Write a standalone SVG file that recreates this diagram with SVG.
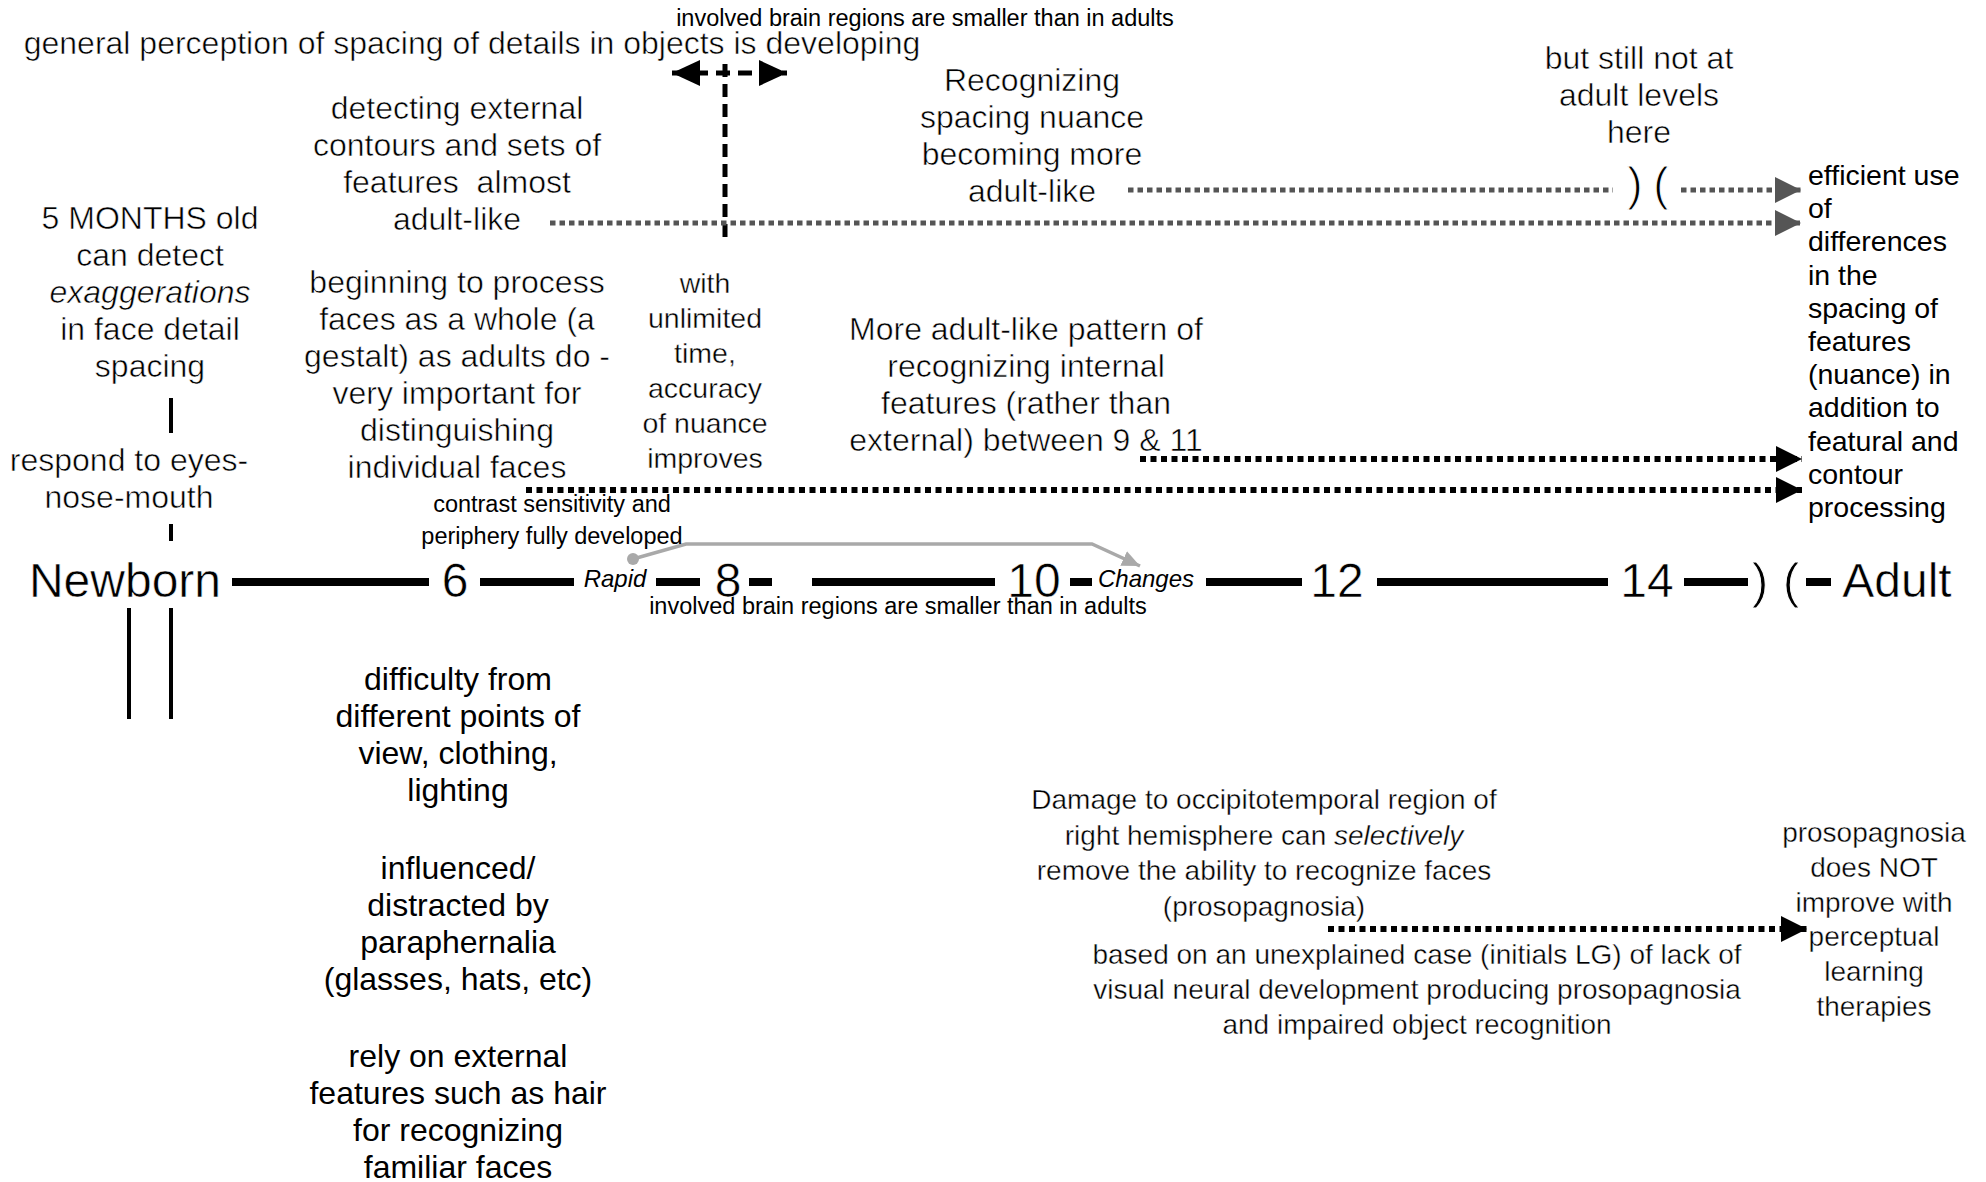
<svg xmlns="http://www.w3.org/2000/svg" width="1986" height="1182" viewBox="0 0 1986 1182">
<style>
text { font-family: "Liberation Sans", Arial, Helvetica, sans-serif; fill: #000; }
.lt { stroke: #fff; stroke-width: 0.55; }
.ls { stroke: #fff; stroke-width: 0.4; }
.c { text-anchor: middle; }
.f32 { font-size: 32px; }
.f29 { font-size: 28.5px; }
.f28 { font-size: 28px; }
.f23 { font-size: 23.5px; }
.tl { font-size: 48px; text-anchor: middle; }
.it { font-style: italic; }
.sm { font-size: 24px; font-style: italic; text-anchor: middle; }
.gdot { fill: none; stroke: #555; stroke-width: 5; stroke-dasharray: 5.5 4; }
.bdot { fill: none; stroke: #000; stroke-width: 6; stroke-dasharray: 6 4.5; }
.bdash { fill: none; stroke: #000; stroke-width: 5; stroke-dasharray: 13 7; }
.seg { stroke: #000; stroke-width: 8; }
.bar { stroke: #000; stroke-width: 4; }
.gline { fill: none; stroke: #a9a9a9; stroke-width: 3.5; }
.brk { font-size: 46px; fill: #000; text-anchor: middle; stroke: #fff; stroke-width: 1; }
</style>
<defs>
<marker id="ag" viewBox="0 0 26 26" refX="26" refY="13" markerWidth="26" markerHeight="26" markerUnits="userSpaceOnUse" orient="auto">
<path d="M0,0 L26,13 L0,26 z" fill="#555"/>
</marker>
<marker id="ab" viewBox="0 0 26 26" refX="26" refY="13" markerWidth="26" markerHeight="26" markerUnits="userSpaceOnUse" orient="auto">
<path d="M0,0 L26,13 L0,26 z" fill="#000"/>
</marker>
<marker id="ad" viewBox="0 0 28 26" refX="28" refY="13" markerWidth="28" markerHeight="26" markerUnits="userSpaceOnUse" orient="auto-start-reverse">
<path d="M0,0 L28,13 L0,26 z" fill="#000"/>
</marker>
<marker id="alg" viewBox="0 0 18 16" refX="18" refY="8" markerWidth="18" markerHeight="16" markerUnits="userSpaceOnUse" orient="auto">
<path d="M0,0 L18,8 L0,16 z" fill="#a9a9a9"/>
</marker>
<marker id="dot" viewBox="0 0 14 14" refX="7" refY="7" markerWidth="14" markerHeight="14" markerUnits="userSpaceOnUse">
<circle cx="7" cy="7" r="6" fill="#a9a9a9"/>
</marker>
</defs>

<g id="connectors">
<line class="seg" x1="232" y1="582" x2="429" y2="582"/>
<line class="seg" x1="480" y1="582" x2="574" y2="582"/>
<line class="seg" x1="656" y1="582" x2="700" y2="582"/>
<line class="seg" x1="749" y1="582" x2="772" y2="582"/>
<line class="seg" x1="812" y1="582" x2="995" y2="582"/>
<line class="seg" x1="1070" y1="582" x2="1092" y2="582"/>
<line class="seg" x1="1206" y1="582" x2="1302" y2="582"/>
<line class="seg" x1="1377" y1="582" x2="1608" y2="582"/>
<line class="seg" x1="1684" y1="582" x2="1748" y2="582"/>
<line class="seg" x1="1806" y1="582" x2="1831" y2="582"/>
<text class="brk" x="1760" y="598" style="font-size:50px">)</text>
<text class="brk" x="1791" y="598" style="font-size:50px">(</text>
<line class="bar" x1="171" y1="398" x2="171" y2="433"/>
<line class="bar" x1="171" y1="524" x2="171" y2="541"/>
<line class="bar" x1="129" y1="608" x2="129" y2="719"/>
<line class="bar" x1="171" y1="608" x2="171" y2="719"/>
<line class="bdash" x1="725" y1="64" x2="725" y2="242"/>
<line class="bdash" x1="672" y1="73" x2="787" y2="73" marker-start="url(#ad)" marker-end="url(#ad)" style="stroke-dasharray:14 8"/>
<line class="gdot" x1="1128" y1="190" x2="1613" y2="190"/>
<text class="brk" x="1635" y="200">)</text>
<text class="brk" x="1661" y="200">(</text>
<line class="gdot" x1="1681" y1="190" x2="1801" y2="190" marker-end="url(#ag)"/>
<line class="gdot" x1="550" y1="223" x2="1801" y2="223" marker-end="url(#ag)"/>
<line class="bdot" x1="1140" y1="459" x2="1802" y2="459" marker-end="url(#ab)"/>
<line class="bdot" x1="526" y1="490" x2="1802" y2="490" marker-end="url(#ab)"/>
<line class="bdot" x1="1328" y1="929" x2="1807" y2="929" marker-end="url(#ab)"/>
<path class="gline" d="M633,559 L686,544 L1092,544 L1140,566" marker-start="url(#dot)" marker-end="url(#alg)"/>
</g>

<g id="n_top_involved"><text class="c f23" x="925" y="26">involved brain regions are smaller than in adults</text></g>
<g id="n_general"><text class="c f32 lt" x="472" y="54">general perception of spacing of details in objects is developing</text></g>
<g id="n_detecting">
<text class="c f32 lt" x="457" y="119">detecting external</text>
<text class="c f32 lt" x="457" y="156">contours and sets of</text>
<text class="c f32 lt" x="457" y="193" xml:space="preserve">features  almost</text>
<text class="c f32 lt" x="457" y="230">adult-like</text>
</g>
<g id="n_recognizing">
<text class="c f32 lt" x="1032" y="91">Recognizing</text>
<text class="c f32 lt" x="1032" y="128">spacing nuance</text>
<text class="c f32 lt" x="1032" y="165">becoming more</text>
<text class="c f32 lt" x="1032" y="202">adult-like</text>
</g>
<g id="n_butstill">
<text class="c f32 lt" x="1639" y="69">but still not at</text>
<text class="c f32 lt" x="1639" y="106">adult levels</text>
<text class="c f32 lt" x="1639" y="143">here</text>
</g>
<g id="n_efficient">
<text class="f29" x="1808" y="185">efficient use</text>
<text class="f29" x="1808" y="218">of</text>
<text class="f29" x="1808" y="251">differences</text>
<text class="f29" x="1808" y="285">in the</text>
<text class="f29" x="1808" y="318">spacing of</text>
<text class="f29" x="1808" y="351">features</text>
<text class="f29" x="1808" y="384">(nuance) in</text>
<text class="f29" x="1808" y="417">addition to</text>
<text class="f29" x="1808" y="451">featural and</text>
<text class="f29" x="1808" y="484">contour</text>
<text class="f29" x="1808" y="517">processing</text>
</g>
<g id="n_5months">
<text class="c f32 lt" x="150" y="229">5 MONTHS old</text>
<text class="c f32 lt" x="150" y="266">can detect</text>
<text class="c f32 it lt" x="150" y="303">exaggerations</text>
<text class="c f32 lt" x="150" y="340">in face detail</text>
<text class="c f32 lt" x="150" y="377">spacing</text>
</g>
<g id="n_respond">
<text class="c f32 lt" x="129" y="471">respond to eyes-</text>
<text class="c f32 lt" x="129" y="508">nose-mouth</text>
</g>
<g id="n_beginning">
<text class="c f32 lt" x="457" y="293">beginning to process</text>
<text class="c f32 lt" x="457" y="330">faces as a whole (a</text>
<text class="c f32 lt" x="457" y="367">gestalt) as adults do -</text>
<text class="c f32 lt" x="457" y="404">very important for</text>
<text class="c f32 lt" x="457" y="441">distinguishing</text>
<text class="c f32 lt" x="457" y="478">individual faces</text>
</g>
<g id="n_with">
<text class="c f29 ls" x="705" y="293">with</text>
<text class="c f29 ls" x="705" y="328">unlimited</text>
<text class="c f29 ls" x="705" y="363">time,</text>
<text class="c f29 ls" x="705" y="398">accuracy</text>
<text class="c f29 ls" x="705" y="433">of nuance</text>
<text class="c f29 ls" x="705" y="468">improves</text>
</g>
<g id="n_more">
<text class="c f32 lt" x="1026" y="340">More adult-like pattern of</text>
<text class="c f32 lt" x="1026" y="377">recognizing internal</text>
<text class="c f32 lt" x="1026" y="414">features (rather than</text>
<text class="c f32 lt" x="1026" y="451">external) between 9 &amp; 11</text>
</g>
<g id="n_contrast">
<text class="c f23" x="552" y="512">contrast sensitivity and</text>
<text class="c f23" x="552" y="544">periphery fully developed</text>
</g>
<g id="n_bottom_involved"><text class="c f23" x="898" y="614">involved brain regions are smaller than in adults</text></g>
<g id="n_rapid"><text class="sm" x="615" y="587">Rapid</text></g>
<g id="n_changes"><text class="sm" x="1146" y="587">Changes</text></g>
<g id="n_newborn"><text class="tl lt" x="125" y="597">Newborn</text></g>
<g id="n_6"><text class="tl lt" x="455" y="597">6</text></g>
<g id="n_8"><text class="tl lt" x="728" y="597">8</text></g>
<g id="n_10"><text class="tl lt" x="1034" y="597">10</text></g>
<g id="n_12"><text class="tl lt" x="1337" y="597">12</text></g>
<g id="n_14"><text class="tl lt" x="1647" y="597">14</text></g>
<g id="n_adult"><text class="tl lt" x="1897" y="597">Adult</text></g>
<g id="n_difficulty">
<text class="c f32" x="458" y="690">difficulty from</text>
<text class="c f32" x="458" y="727">different points of</text>
<text class="c f32" x="458" y="764">view, clothing,</text>
<text class="c f32" x="458" y="801">lighting</text>
<text class="c f32" x="458" y="879">influenced/</text>
<text class="c f32" x="458" y="916">distracted by</text>
<text class="c f32" x="458" y="953">paraphernalia</text>
<text class="c f32" x="458" y="990">(glasses, hats, etc)</text>
<text class="c f32" x="458" y="1067">rely on external</text>
<text class="c f32" x="458" y="1104">features such as hair</text>
<text class="c f32" x="458" y="1141">for recognizing</text>
<text class="c f32" x="458" y="1178">familiar faces</text>
</g>
<g id="n_damage">
<text class="c f28 ls" x="1264" y="809">Damage to occipitotemporal region of</text>
<text class="c f28 ls" x="1264" y="845">right hemisphere can <tspan class="it">selectively</tspan></text>
<text class="c f28 ls" x="1264" y="880">remove the ability to recognize faces</text>
<text class="c f28 ls" x="1264" y="916">(prosopagnosia)</text>
</g>
<g id="n_based">
<text class="c f28 ls" x="1417" y="964">based on an unexplained case (initials LG) of lack of</text>
<text class="c f28 ls" x="1417" y="999">visual neural development producing prosopagnosia</text>
<text class="c f28 ls" x="1417" y="1034">and impaired object recognition</text>
</g>
<g id="n_prosop">
<text class="c f28 ls" x="1874" y="842">prosopagnosia</text>
<text class="c f28 ls" x="1874" y="877">does NOT</text>
<text class="c f28 ls" x="1874" y="912">improve with</text>
<text class="c f28 ls" x="1874" y="946">perceptual</text>
<text class="c f28 ls" x="1874" y="981">learning</text>
<text class="c f28 ls" x="1874" y="1016">therapies</text>
</g>
</svg>
